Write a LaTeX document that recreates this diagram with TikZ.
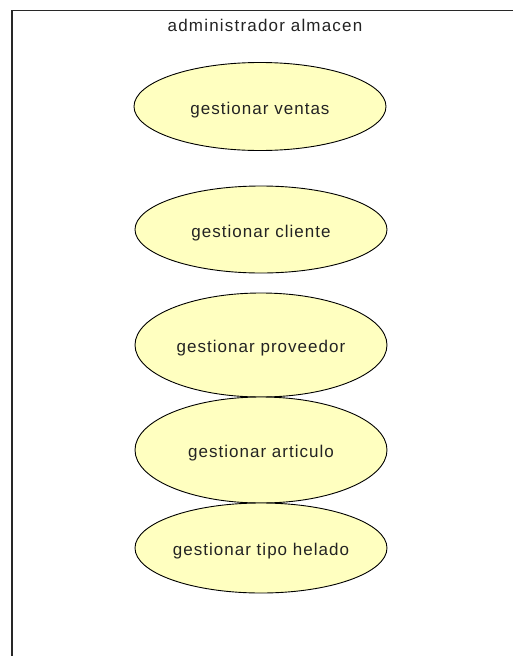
\documentclass[tikz,border=0pt]{standalone}
\usepackage{fontspec}
\setmainfont{Liberation Sans}
\usetikzlibrary{shapes.geometric}
\definecolor{ucfill}{RGB}{255,255,192}
\definecolor{txt}{RGB}{35,35,35}
\definecolor{frame}{RGB}{40,40,40}
\tikzset{
  usecase/.style={ellipse, draw=black, line width=0.9pt, fill=ucfill, inner sep=0pt,
    minimum width=252pt, text=txt, text height=15pt, text depth=0pt,
    font=\fontsize{17}{20}\selectfont\addfontfeature{LetterSpace=6}},
  frameline/.style={draw=frame, line width=1.8pt},
  titletext/.style={text=txt, inner sep=0pt, anchor=base,
    font=\fontsize{17}{20}\selectfont\addfontfeature{LetterSpace=7}}
}
\begin{document}
\begin{tikzpicture}[x=1pt,y=-1pt]
\useasboundingbox (0,0) rectangle (512,656);
\fill[white] (0,0) rectangle (512,656);
\coordinate (fbl) at (12,660);
\coordinate (ftl) at (12,10.5);
\coordinate (ftr) at (516,10.5);
\draw[frameline] (fbl) -- (ftl) -- (ftr);
\node[titletext] (title) at (265,31) {administrador almacen};
\node[usecase, minimum height=88pt] (ventas) at (260,106.5) {gestionar ventas};
\node[usecase, minimum height=87pt] (cliente) at (261,229.5) {gestionar cliente};
\node[usecase, minimum height=104pt] (proveedor) at (261,345) {gestionar proveedor};
\node[usecase, minimum height=106pt] (articulo) at (261,450) {gestionar articulo};
\node[usecase, minimum height=90pt] (helado) at (261,548) {gestionar tipo helado};
\end{tikzpicture}
\end{document}
